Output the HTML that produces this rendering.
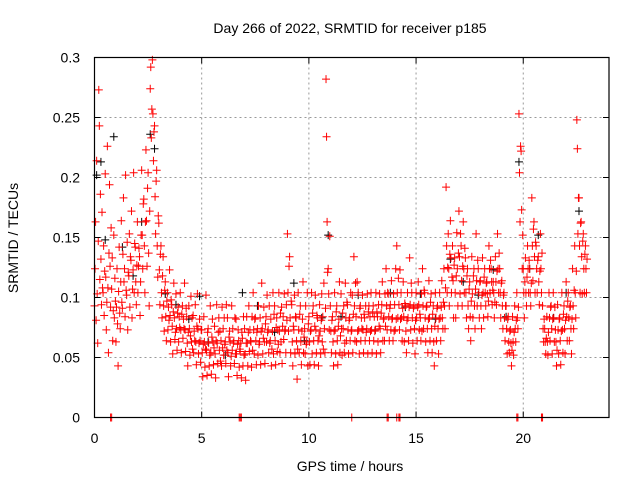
<!DOCTYPE html>
<html><head><meta charset="utf-8"><style>
body{margin:0;background:#fff}
svg{display:block;font-family:"Liberation Sans",sans-serif}
</style></head><body>
<svg id="chart" width="640" height="480">
<text x="350" y="33" text-anchor="middle" font-size="14">Day 266 of 2022, SRMTID for receiver p185</text>
<text x="350" y="471" text-anchor="middle" font-size="14">GPS time / hours</text>
<text transform="translate(18,238) rotate(-90)" text-anchor="middle" font-size="14">SRMTID / TECUs</text>
<g id="grid"></g><g id="marks"></g>
<rect x="94.5" y="57.5" width="514.5" height="360" fill="none" stroke="#000" stroke-width="1.2"/>
<g id="ticks"></g>
</svg>
<script>
const xTicks=[0,5,10,15,20];
const yTicks=[0,0.05,0.1,0.15,0.2,0.25,0.3];
const yTickLabels=["0","0.05","0.1","0.15","0.2","0.25","0.3"];
const redStart=0, redStep=0.1;
const redV=[
[.093,.124,.163,.081],[.214,.103,.062,.147],[.273,.243,.115,.186],[.132,.094,.171,.108],[.104,.143,.085,.122],[.203,.117,.073,.096],[.226,.108,.054,.137],[.194,.126,.092,.158],[.107,.133,.064,.089],[.152,.083,.116,.097],
[.063,.092,.124,.078],[.043,.105,.142,.087],[.074,.113,.164,.096],[.091,.136,.183,.113],[.124,.084,.202,.106],[.102,.146,.073,.121],[.118,.153,.092,.134],[.131,.172,.083,.107],[.123,.204,.104,.145],[.142,.113,.094,.127],
[.163,.104,.126,.141],[.134,.085,.113,.152],[.206,.152,.124,.178],[.182,.143,.104,.163],[.223,.164,.126,.191],[.204,.137,.093,.172],[.274,.292,.233,.257],[.298,.253,.214,.238],[.243,.184,.153,.197],[.206,.143,.117,.168],
[.162,.123,.094,.136],[.143,.104,.083,.118],[.134,.093,.072,.106],[.113,.084,.064,.097],[.104,.073,.092,.081],[.123,.085,.063,.098],[.094,.076,.053,.088],[.112,.083,.065,.071],[.103,.074,.056,.087],[.092,.063,.084,.075],
[.104,.073,.054,.086],[.093,.066,.082,.074],[.112,.073,.055,.091],[.084,.062,.043,.071],[.093,.074,.052,.068],[.101,.063,.083,.057],[.085,.054,.072,.064],[.094,.063,.044,.076],[.103,.074,.053,.062],[.082,.064,.046,.073],
[.073,.054,.034,.061],[.084,.063,.042,.057],[.102,.056,.035,.071],[.074,.062,.043,.052],[.093,.054,.036,.067],[.082,.063,.044,.058],[.076,.053,.033,.064],[.094,.062,.045,.071],[.083,.056,.072,.047],[.064,.043,.092,.058],
[.074,.052,.083,.061],[.063,.045,.094,.056],[.083,.054,.034,.067],[.072,.063,.043,.051],[.093,.056,.074,.062],[.064,.045,.083,.053],[.082,.053,.035,.061],[.073,.064,.042,.057],[.055,.062,.033,.071],[.066,.043,.084,.052],
[.074,.053,.031,.062],[.084,.062,.043,.071],[.093,.055,.073,.064],[.063,.042,.084,.056],[.104,.073,.053,.082],[.083,.064,.044,.071],[.074,.052,.093,.061],[.063,.083,.044,.072],[.112,.074,.053,.066],[.092,.063,.045,.078],
[.084,.063,.102,.071],[.073,.054,.093,.062],[.064,.082,.043,.057],[.072,.104,.053,.086],[.093,.064,.044,.075],[.083,.055,.073,.061],[.104,.072,.054,.087],[.063,.092,.045,.076],[.084,.065,.103,.072],[.073,.054,.094,.081],
[.153,.104,.072,.126],[.134,.083,.054,.097],[.094,.063,.043,.076],[.073,.102,.053,.084],[.083,.064,.032,.057],[.104,.073,.054,.086],[.093,.063,.044,.072],[.082,.113,.054,.067],[.074,.053,.093,.061],[.063,.104,.043,.078],
[.084,.063,.044,.072],[.073,.104,.053,.087],[.093,.064,.044,.076],[.102,.073,.054,.085],[.083,.064,.043,.068],[.094,.072,.053,.081],[.103,.063,.084,.057],[.112,.074,.054,.091],[.282,.234,.163,.121],[.124,.103,.073,.151],
[.093,.072,.054,.081],[.084,.063,.043,.072],[.104,.073,.053,.088],[.093,.064,.044,.076],[.082,.113,.054,.068],[.103,.074,.052,.087],[.074,.093,.054,.062],[.112,.083,.064,.096],[.094,.073,.053,.081],[.083,.064,.104,.072],
[.073,.102,.054,.086],[.134,.093,.064,.112],[.084,.063,.113,.072],[.104,.073,.053,.091],[.093,.064,.083,.074],[.102,.073,.054,.086],[.083,.064,.093,.071],[.074,.103,.053,.088],[.093,.064,.084,.072],[.104,.073,.054,.087],
[.093,.064,.084,.072],[.073,.104,.053,.088],[.084,.063,.094,.076],[.103,.074,.054,.087],[.094,.113,.064,.082],[.083,.064,.103,.076],[.124,.093,.073,.104],[.103,.084,.064,.091],[.094,.073,.114,.082],[.083,.064,.103,.072],
[.094,.073,.124,.082],[.143,.104,.083,.116],[.094,.073,.123,.082],[.104,.083,.064,.091],[.113,.084,.063,.095],[.093,.072,.054,.081],[.104,.083,.064,.092],[.133,.094,.073,.112],[.104,.083,.062,.091],[.093,.074,.053,.081],
[.104,.083,.064,.092],[.113,.094,.073,.086],[.083,.064,.103,.072],[.124,.093,.074,.106],[.104,.083,.063,.092],[.093,.074,.054,.082],[.114,.083,.064,.096],[.103,.074,.054,.086],[.093,.063,.043,.076],[.104,.083,.064,.091],
[.093,.074,.053,.082],[.104,.083,.064,.092],[.114,.083,.074,.096],[.124,.093,.074,.108],[.192,.143,.104,.125],[.153,.124,.093,.136],[.164,.133,.104,.117],[.143,.114,.083,.127],[.133,.104,.083,.118],[.154,.124,.093,.137],
[.172,.134,.103,.153],[.143,.114,.093,.126],[.163,.124,.104,.141],[.133,.104,.083,.118],[.124,.093,.074,.107],[.113,.084,.064,.097],[.134,.103,.083,.118],[.124,.093,.074,.107],[.153,.114,.093,.131],[.124,.104,.083,.113],
[.114,.093,.074,.102],[.133,.104,.083,.117],[.124,.104,.093,.112],[.113,.103,.084,.097],[.143,.124,.104,.131],[.124,.113,.094,.106],[.113,.104,.083,.096],[.134,.113,.094,.122],[.153,.124,.104,.137],[.124,.104,.083,.112],
[.114,.093,.074,.102],[.104,.083,.064,.093],[.093,.074,.053,.082],[.084,.063,.054,.072],[.073,.062,.043,.056],[.084,.063,.052,.071],[.093,.074,.063,.081],[.104,.083,.074,.092],[.253,.204,.163,.226],[.222,.173,.124,.152],
[.124,.104,.083,.113],[.133,.104,.093,.117],[.143,.124,.104,.131],[.124,.104,.093,.112],[.183,.143,.114,.157],[.163,.134,.104,.146],[.143,.124,.104,.131],[.134,.113,.094,.122],[.153,.124,.104,.137],[.093,.074,.063,.082],
[.074,.063,.053,.066],[.084,.063,.052,.071],[.104,.083,.064,.092],[.093,.074,.053,.082],[.104,.083,.063,.092],[.073,.063,.043,.056],[.094,.073,.053,.082],[.083,.064,.044,.072],[.104,.073,.054,.086],[.093,.074,.053,.081],
[.113,.084,.064,.097],[.104,.083,.064,.092],[.093,.074,.053,.082],[.124,.093,.074,.106],[.143,.104,.083,.122],[.248,.224,.153,.183],[.183,.143,.104,.162],[.163,.134,.103,.147],[.153,.124,.104,.136],[.143,.124,.104,.132]
];
const zeroT=[0.75,0.8,6.75,6.8,6.85,12.0,13.65,13.7,14.1,14.2,14.25,19.7,19.75,20.85,20.9];
const blackT=[0.1,0.3,0.5,0.9,1.3,1.8,2.2,2.6,2.8,3.3,3.8,4.4,4.9,5.3,6.1,6.9,7.6,8.4,9.3,9.8,10.6,10.9,11.5,12.3,13.1,13.8,14.5,15.2,15.9,16.6,17.2,17.9,18.6,19.2,19.8,20.3,20.7,21.4,22.0,22.6];
const blackV=[0.202,0.213,0.148,0.234,0.142,0.118,0.163,0.236,0.224,0.103,0.094,0.082,0.101,0.063,0.052,0.104,0.093,0.071,0.112,0.064,0.083,0.152,0.084,0.102,0.073,0.104,0.092,0.103,0.082,0.132,0.113,0.102,0.123,0.084,0.213,0.124,0.152,0.083,0.104,0.172];
const X=v=>94.5+v*(514.5/24), Y=v=>417.5-v*1200;
const NS="http://www.w3.org/2000/svg";
const grid=document.getElementById('grid'),marks=document.getElementById('marks'),ticks=document.getElementById('ticks');
function mk(tag,attrs,parent){const e=document.createElementNS(NS,tag);for(const k in attrs)e.setAttribute(k,attrs[k]);parent.appendChild(e);return e;}
xTicks.forEach(t=>{
 if(t>0){const g=mk('line',{x1:X(t),x2:X(t),y1:57.5,y2:417.5,stroke:'#999','stroke-dasharray':'2,3'},grid);
 
 }
 const l=mk('text',{x:X(t),y:443,'text-anchor':'middle','font-size':14},ticks);l.textContent=t;
 
 
 mk('line',{x1:X(t),x2:X(t),y1:417.5,y2:411.5,stroke:'#000'},ticks);
 mk('line',{x1:X(t),x2:X(t),y1:57.5,y2:63.5,stroke:'#000'},ticks);
});
yTicks.forEach((t,i)=>{
 if(t>0&&t<0.3){const g=mk('line',{x1:94.5,x2:609,y1:Y(t),y2:Y(t),stroke:'#999','stroke-dasharray':'2,3'},grid);
 
 }
 const l=mk('text',{x:80,y:Y(t)+5,'text-anchor':'end','font-size':14},ticks);l.textContent=yTickLabels[i];
 
 
 mk('line',{x1:94.5,x2:100.5,y1:Y(t),y2:Y(t),stroke:'#000'},ticks);
 mk('line',{x1:603,x2:609,y1:Y(t),y2:Y(t),stroke:'#000'},ticks);
});
function plus(t,v,col){
 const x=X(t),y=Y(v);
 const p=mk('path',{d:`M${x-4},${y}H${x+4}M${x},${y-4}V${y+4}`,stroke:col,'stroke-width':1,fill:'none'},marks);
 
 
}
blackT.forEach((t,i)=>plus(t,blackV[i],'#000'));
redV.forEach((vals,i)=>{const t=redStart+i*redStep;vals.forEach((v,j)=>plus(t+j*0.025,v,'#f00'));});
zeroT.forEach(t=>plus(t,0,'#f00'));
</script>
</body></html>
